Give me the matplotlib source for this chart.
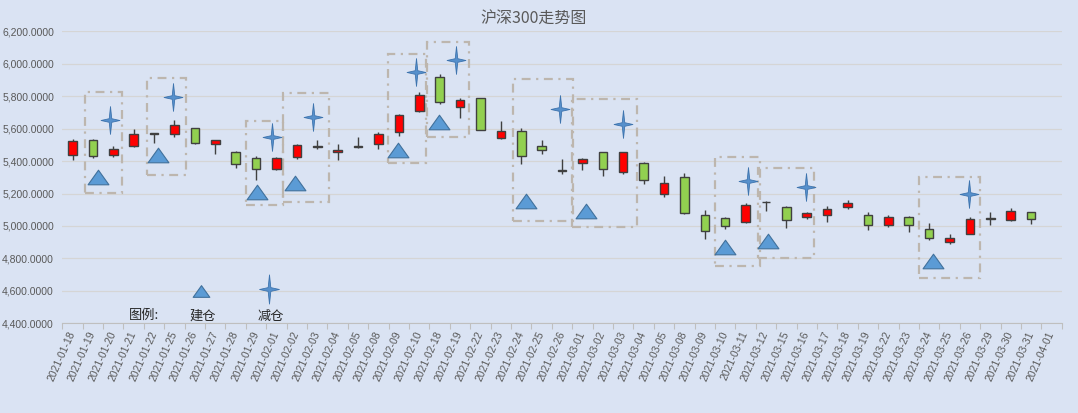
import matplotlib
matplotlib.use("Agg")
import matplotlib.pyplot as plt
from matplotlib.patches import Rectangle
from matplotlib.path import Path
from matplotlib.ticker import FuncFormatter
import numpy as np

plt.rcParams['font.family'] = ['Liberation Sans', 'Noto Sans CJK SC', 'DejaVu Sans']

# trading days shown on the category axis
dates = ["2021-01-18", "2021-01-19", "2021-01-20", "2021-01-21", "2021-01-22",
         "2021-01-25", "2021-01-26", "2021-01-27", "2021-01-28", "2021-01-29",
         "2021-02-01", "2021-02-02", "2021-02-03", "2021-02-04", "2021-02-05",
         "2021-02-08", "2021-02-09", "2021-02-10", "2021-02-18", "2021-02-19",
         "2021-02-22", "2021-02-23", "2021-02-24", "2021-02-25", "2021-02-26",
         "2021-03-01", "2021-03-02", "2021-03-03", "2021-03-04", "2021-03-05",
         "2021-03-08", "2021-03-09", "2021-03-10", "2021-03-11", "2021-03-12",
         "2021-03-15", "2021-03-16", "2021-03-17", "2021-03-18", "2021-03-19",
         "2021-03-22", "2021-03-23", "2021-03-24", "2021-03-25", "2021-03-26",
         "2021-03-29", "2021-03-30", "2021-03-31", "2021-04-01"]

nan = np.nan
opens = [5440, 5527, 5440, 5490, 5569, 5564, 5601, 5508, 5453, 5416,
         5354, 5428, 5496, 5453, 5496, 5508, 5582, 5709, 5921, 5736,
         5786, 5545, 5588, 5496, 5342, 5391, 5454, 5330, 5386, 5194,
         5299, 5065, 5047, 5023, 5150, 5114, 5053, 5065, 5114, 5069,
         5005, 5057, 4983, 4902, 4951, 5047, 5037, 5085, nan]
highs = [5539, 5535, 5496, 5595, 5572, 5656, 5603, 5533, 5461, 5430,
         5425, 5504, 5531, 5508, 5549, 5578, 5693, 5823, 5934, 5786,
         5788, 5645, 5601, 5527, 5413, 5422, 5456, 5456, 5394, 5307,
         5324, 5098, 5053, 5144, 5151, 5120, 5084, 5120, 5157, 5088,
         5069, 5063, 5020, 4948, 5054, 5085, 5110, 5088, nan]
lows = [5409, 5416, 5428, 5488, 5513, 5547, 5508, 5446, 5360, 5286,
        5344, 5411, 5473, 5409, 5480, 5477, 5557, 5703, 5749, 5666,
        5590, 5536, 5380, 5446, 5319, 5348, 5307, 5318, 5256, 5176,
        5075, 4917, 4980, 5020, 5092, 4989, 5041, 5022, 5106, 4976,
        4993, 4964, 4915, 4886, 4949, 5008, 5033, 5015, nan]
closes = [5522, 5432, 5477, 5564, 5571, 5625, 5514, 5527, 5379, 5354,
          5416, 5502, 5484, 5471, 5484, 5564, 5687, 5810, 5767, 5779,
          5593, 5584, 5434, 5471, 5339, 5413, 5349, 5454, 5281, 5262,
          5077, 4970, 5001, 5128, 5147, 5034, 5077, 5102, 5141, 5005,
          5057, 5005, 4926, 4923, 5040, 5045, 5095, 5046, nan]

# 建仓 (buy) and 减仓 (sell) signal markers, x in category units
buy_x = [1.26, 4.2, 9.06, 10.9, 15.94, 17.97, 22.23, 25.2, 32.0, 34.1, 42.17]
buy_y = [5300, 5436, 5208, 5263, 5467, 5640, 5152, 5090, 4869, 4906, 4783]
sell_x = [1.84, 4.94, 9.76, 11.8, 16.82, 18.8, 23.9, 26.98, 33.13, 35.96, 43.96]
sell_y = [5652, 5792, 5549, 5674, 5950, 6022, 5724, 5627, 5278, 5242, 5196]

# dashed frames around each buy/sell pair
box_x0 = [0.61, 3.64, 8.49, 10.30, 15.45, 17.36, 21.58, 24.47, 31.5, 33.62, 41.5]
box_x1 = [2.43, 5.55, 10.33, 12.59, 17.33, 19.44, 24.52, 27.66, 33.7, 36.36, 44.48]
box_y0 = [5203, 5313, 5127, 5148, 5391, 5549, 5029, 4994, 4751, 4805, 4679]
box_y1 = [5827, 5913, 5648, 5820, 6063, 6135, 5907, 5781, 5425, 5358, 5302]

bg = '#DAE3F3'
edge = '#404040'

fig = plt.figure(figsize=(10.78, 4.13), dpi=100, facecolor=bg)
ax = fig.add_axes([0.0578, 0.2172, 0.9271, 0.707])
ax.set_facecolor(bg)

x = np.arange(len(dates))
o = np.array(opens, dtype=float)
c = np.array(closes, dtype=float)
colors = ['#FF0000' if cc >= oo else '#92D050' for oo, cc in zip(o, c)]

ax.vlines(x, lows, highs, color=edge, linewidth=1.0, zorder=2)
ax.bar(x, np.abs(c - o), bottom=np.minimum(o, c), width=0.42, color=colors,
       edgecolor=edge, linewidth=1.0, zorder=3)

# custom marker shapes
tri = Path([(0, 0.7), (-1, -0.7), (1, -0.7), (0, 0.7)],
           [Path.MOVETO, Path.LINETO, Path.LINETO, Path.CLOSEPOLY])
star_pts = [(0, 1), (0.09, 0.13), (0.68, 0), (0.09, -0.13), (0, -1),
            (-0.09, -0.13), (-0.68, 0), (-0.09, 0.13), (0, 1)]
star = Path(star_pts, [Path.MOVETO] + [Path.LINETO] * 7 + [Path.CLOSEPOLY])

ax.plot(buy_x, buy_y, linestyle='none', marker=tri, markersize=15,
        markerfacecolor='#5B9BD5', markeredgecolor='#41719C', markeredgewidth=0.8, zorder=4)
ax.plot(sell_x, sell_y, linestyle='none', marker=star, markersize=20,
        markerfacecolor='#5690CC', markeredgecolor='#3E74AE', markeredgewidth=0.6, zorder=4)

for bx0, bx1, by0, by1 in zip(box_x0, box_x1, box_y0, box_y1):
    ax.add_patch(Rectangle((bx0, by0), bx1 - bx0, by1 - by0, fill=False,
                           edgecolor='#BDB6AE', linewidth=1.6,
                           linestyle=(0, (4, 2.5, 1, 2.5)), zorder=2.5))

# legend drawn inside the plot area
ax.plot([6.3], [4598], linestyle='none', marker=tri, markersize=12,
        markerfacecolor='#5B9BD5', markeredgecolor='#41719C', markeredgewidth=0.8, zorder=4)
ax.plot([9.62], [4610], linestyle='none', marker=star, markersize=21,
        markerfacecolor='#5690CC', markeredgecolor='#3E74AE', markeredgewidth=0.6, zorder=4)
cjk = ['Noto Sans CJK SC', 'DejaVu Sans']
ax.text(3.5, 4449, '图例:', ha='center', va='center', fontsize=9.5, color='#262626', family=cjk)
ax.text(6.37, 4443, '建仓', ha='center', va='center', fontsize=9.5, color='#262626', family=cjk)
ax.text(9.71, 4443, '减仓', ha='center', va='center', fontsize=9.5, color='#262626', family=cjk)

ax.set_xlim(-0.5, len(dates) - 0.5)
ax.set_ylim(4400, 6200)
ax.set_yticks(np.arange(4400, 6201, 200))
ax.yaxis.set_major_formatter(FuncFormatter(lambda v, p: f"{v:,.4f}"))
ax.grid(axis='y', color='#D5D5D5', linewidth=0.9, zorder=0)
ax.set_axisbelow(True)

ax.set_xticks(x)
ax.set_xticklabels(dates, rotation=66, ha='right', va='center', rotation_mode='anchor')
ax.set_xticks(np.arange(-0.5, len(dates), 1), minor=True)
ax.tick_params(axis='x', which='major', length=0, pad=6, labelsize=7.5, labelcolor='#595959')
ax.tick_params(axis='x', which='minor', length=4, color='#BFBFBF', width=0.8)
ax.tick_params(axis='y', length=0, pad=6, labelsize=7.5, labelcolor='#595959')

for s in ['top', 'right', 'left']:
    ax.spines[s].set_visible(False)
ax.spines['bottom'].set_color('#BFBFBF')
ax.spines['bottom'].set_linewidth(0.8)

fig.text(0.4954, 0.954, '沪深300走势图', ha='center', va='center', fontsize=11.5,
         color='#595959', family=cjk)

fig.savefig('out.png', dpi=100, facecolor=bg)
